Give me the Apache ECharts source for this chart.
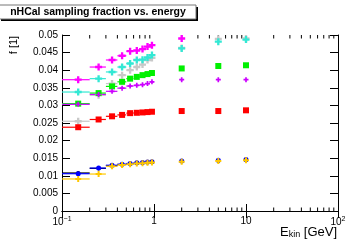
<!DOCTYPE html>
<html>
<head>
<meta charset="utf-8">
<script src="https://cdn.jsdelivr.net/npm/echarts@6/dist/echarts.min.js"></script>
<style>
html,body{margin:0;padding:0;background:#fff;}
#main{width:349px;height:241px;}
</style>
</head>
<body>
<div id="main"></div>
<script>
// kinetic energy bin centres [GeV] and half width of the bins
var energy = [0.15, 0.25, 0.35, 0.45, 0.55, 0.65, 0.75, 0.85, 0.95, 2, 5, 10];
var binHalf = 0.05;

// sampling fraction per particle type
var magenta = [0.0373, 0.0409, 0.0429, 0.0441, 0.0454, 0.0456, 0.0460, 0.0467, 0.0471, 0.0490, 0.0505, 0.0510];
var cyan    = [0.0338, 0.0376, 0.0395, 0.0409, 0.0419, 0.0429, 0.0430, 0.0436, 0.0443, 0.0462, 0.0481, 0.0487];
var gray    = [0.0255, 0.0329, 0.0362, 0.0386, 0.0400, 0.0409, 0.0416, 0.0429, 0.0435, 0.0463, 0.0489, 0.0490];
var green   = [0.0305, 0.0335, 0.0354, 0.0367, 0.0376, 0.0381, 0.0386, 0.0389, 0.0392, 0.0405, 0.0412, 0.0414];
var violet  = [0.0303, 0.0331, 0.0340, 0.0349, 0.0355, 0.0357, 0.0359, 0.0362, 0.0367, 0.0373, 0.0373, 0.0373];
var red     = [0.0238, 0.0260, 0.0269, 0.0273, 0.0278, 0.0279, 0.0280, 0.0281, 0.0282, 0.0284, 0.0284, 0.0286];
var black   = [0.0108, 0.0121, 0.0129, 0.0132, 0.0134, 0.0136, 0.0137, 0.0138, 0.0139, 0.0141, 0.0143, 0.0145];
var blue    = [0.0106, 0.0122, 0.0130, 0.0133, 0.0135, 0.0137, 0.0138, 0.0139, 0.0140, 0.0142, 0.0144, 0.0146];
var gold    = [0.0091, 0.0105, 0.0127, 0.0131, 0.0133, 0.0135, 0.0136, 0.0137, 0.0138, 0.0140, 0.0142, 0.0144];

// minor log ticks on the energy axis
var xMinorTicks = [0.2, 0.3, 0.4, 0.5, 0.6, 0.7, 0.8, 0.9, 2, 3, 4, 5, 6, 7, 8, 9, 20, 30, 40, 50, 60, 70, 80, 90];

var FONT = '"Liberation Sans", Arial, sans-serif';
var plus = 'path://M2,0H4V2H6V4H4V6H2V4H0V2H2Z';

window.onload = function(){
	var myChart = echarts.init(document.getElementById('main'));

	function pts(vals){
		return energy.map(function(e, i){ return [e, vals[i]]; });
	}

	function makeSeries(vals, color, symbol, size){
		var d = pts(vals);
		return [
			{
				type: 'custom',
				clip: true,
				silent: true,
				data: d,
				renderItem: function(params, api){
					var e = api.value(0), v = api.value(1);
					var a = api.coord([e - binHalf, v]);
					var b = api.coord([e + binHalf, v]);
					return {
						type: 'line',
						shape: {x1: a[0], y1: a[1], x2: b[0], y2: b[1]},
						style: {stroke: color, lineWidth: 1.2}
					};
				}
			},
			{
				type: 'scatter',
				data: d,
				symbol: symbol,
				symbolSize: size,
				clip: true,
				itemStyle: {color: color, opacity: 1},
				silent: true
			}
		];
	}

	var series = [];
	series = series.concat(makeSeries(gray, '#c8c8c8', plus, 7));
	series = series.concat(makeSeries(cyan, '#33e8d4', plus, 7));
	series = series.concat(makeSeries(magenta, '#ff00ff', plus, 7));
	series = series.concat(makeSeries(green, '#00f000', 'rect', 6));
	series = series.concat(makeSeries(violet, '#cc00ff', plus, 5));
	series = series.concat(makeSeries(red, '#ff0000', 'rect', 6));
	series = series.concat(makeSeries(black, '#000000', 'circle', 4));
	series = series.concat(makeSeries(blue, '#0000ff', 'circle', 5));
	series = series.concat(makeSeries(gold, '#ffc800', plus, 6));

	// minor ticks, bottom and top
	series.push({
		type: 'custom',
		silent: true,
		data: xMinorTicks.map(function(t){ return [t, 0]; }),
		encode: {x: 0, y: 1},
		renderItem: function(params, api){
			var t = api.value(0);
			var b = api.coord([t, 0]);
			var top = api.coord([t, 0.05]);
			return {
				type: 'group',
				children: [
					{type: 'line', shape: {x1: b[0], y1: b[1], x2: b[0], y2: b[1] - 3.5}, style: {stroke: '#000', lineWidth: 1}},
					{type: 'line', shape: {x1: top[0], y1: top[1], x2: top[0], y2: top[1] + 3.5}, style: {stroke: '#000', lineWidth: 1}}
				]
			};
		}
	});

	function xLabel(v){
		var p = Math.round(Math.log(v) / Math.LN10);
		if (p === 0) return '1';
		if (p === 1) return '10';
		return '10{sup|' + (p < 0 ? '\u2212' + (-p) : p) + '}';
	}

	var axisLine = {show: true, lineStyle: {color: '#000', width: 1}};

	var option = {
		backgroundColor: '#fff',
		animation: false,
		grid: {left: 62, right: 11, top: 35, bottom: 30},
		xAxis: [
			{
				type: 'log', logBase: 10, min: 0.1, max: 100,
				position: 'bottom',
				axisLine: axisLine,
				axisTick: {show: true, inside: true, length: 7, lineStyle: {color: '#000'}},
				splitLine: {show: false},
				axisLabel: {
					margin: 5, color: '#000', fontFamily: FONT, fontSize: 10,
					formatter: xLabel,
					rich: {sup: {fontSize: 7, fontFamily: FONT, color: '#000', verticalAlign: 'top', padding: [0, 0, 5, 0]}}
				}
			},
			{
				type: 'log', logBase: 10, min: 0.1, max: 100,
				position: 'top',
				axisLine: axisLine,
				axisTick: {show: true, inside: true, length: 7, lineStyle: {color: '#000'}},
				splitLine: {show: false},
				axisLabel: {show: false}
			}
		],
		yAxis: [
			{
				type: 'value', min: 0, max: 0.05, interval: 0.005,
				position: 'left',
				axisLine: axisLine,
				axisTick: {show: true, inside: true, length: 8, lineStyle: {color: '#000'}},
				splitLine: {show: false},
				axisLabel: {margin: 4, color: '#000', fontFamily: FONT, fontSize: 10,
					formatter: function(v){ return String(+v.toFixed(3)); }}
			},
			{
				type: 'value', min: 0, max: 0.05, interval: 0.005,
				position: 'right',
				axisLine: axisLine,
				axisTick: {show: true, inside: true, length: 8, lineStyle: {color: '#000'}},
				splitLine: {show: false},
				axisLabel: {show: false}
			}
		],
		graphic: [
			{type: 'rect', shape: {x: 1, y: 7, width: 197, height: 14}, style: {fill: '#000'}, z: 100},
			{type: 'rect', shape: {x: -1, y: 5, width: 197, height: 14}, style: {fill: '#fff', stroke: '#777', lineWidth: 1}, z: 101},
			{type: 'text', x: 98, y: 12.5, z: 102, style: {text: 'nHCal sampling fraction vs. energy', font: 'bold 10.5px ' + FONT, fill: '#000', textAlign: 'center', textVerticalAlign: 'middle'}},
			{type: 'text', x: 337, y: 226, z: 102, style: {
				text: 'E{sub|kin} [GeV]', textAlign: 'right', textVerticalAlign: 'top', fill: '#000',
				font: '13px ' + FONT,
				rich: {sub: {fontSize: 9, fontFamily: FONT, fill: '#000', verticalAlign: 'bottom', padding: [4, 0, 0, 0]}}
			}},
			{type: 'text', x: 14, y: 45, rotation: Math.PI / 2, z: 102, style: {text: 'f [1]', font: '11px ' + FONT, fill: '#000', textAlign: 'center', textVerticalAlign: 'middle'}}
		],
		series: series
	};
	myChart.setOption(option);
};
</script>
</body>
</html>
